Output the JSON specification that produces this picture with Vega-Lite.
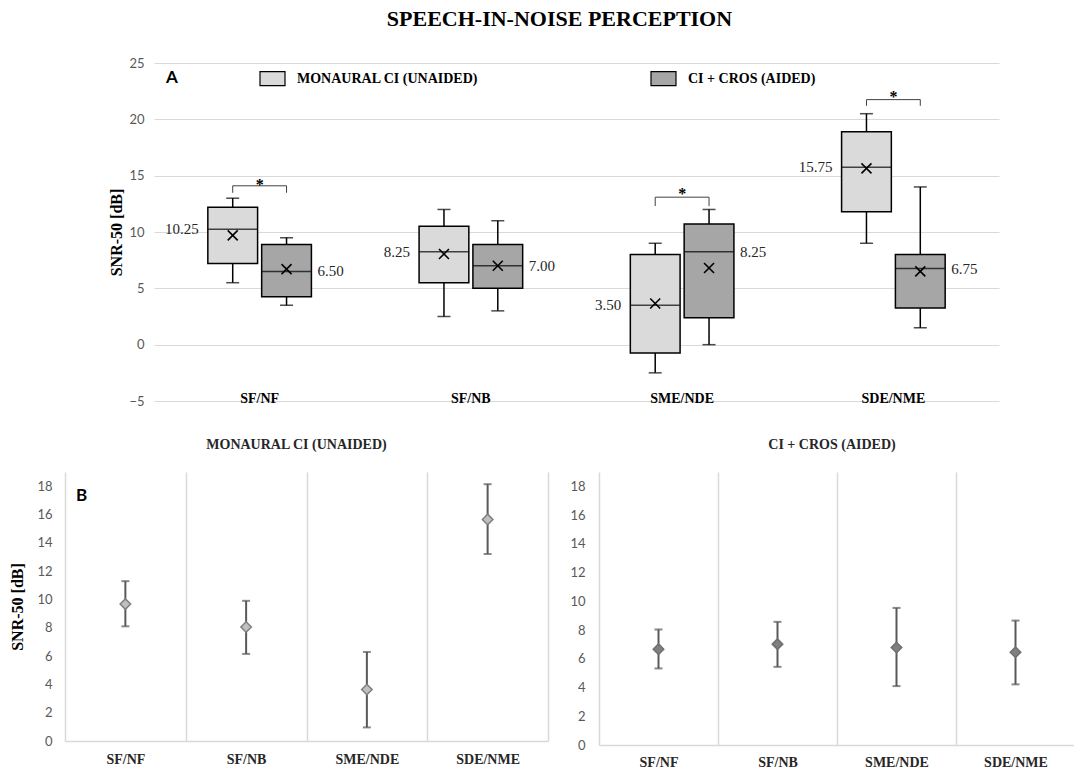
{
  "$schema": "https://vega.github.io/schema/vega-lite/v6.json",
  "padding": {"left": 9, "top": 8, "right": 0, "bottom": 0},
  "title": {"text": "SPEECH-IN-NOISE PERCEPTION", "font": "Liberation Serif", "fontSize": 22, "fontWeight": "bold", "color": "#000000", "anchor": "middle", "dx": 17, "offset": 26},
  "spacing": 30,
  "datasets": {
    "box": [
      {"cond": "SF/NF", "grp": "MONAURAL CI (UNAIDED)", "lo": 5.5, "q1": 7.2, "med": 10.25, "q3": 12.2, "hi": 13.0, "mean": 9.7},
      {"cond": "SF/NF", "grp": "CI + CROS (AIDED)", "lo": 3.5, "q1": 4.25, "med": 6.5, "q3": 8.9, "hi": 9.5, "mean": 6.7},
      {"cond": "SF/NB", "grp": "MONAURAL CI (UNAIDED)", "lo": 2.5, "q1": 5.5, "med": 8.25, "q3": 10.5, "hi": 12.0, "mean": 8.05},
      {"cond": "SF/NB", "grp": "CI + CROS (AIDED)", "lo": 3.0, "q1": 5.0, "med": 7.0, "q3": 8.9, "hi": 11.0, "mean": 7.0},
      {"cond": "SME/NDE", "grp": "MONAURAL CI (UNAIDED)", "lo": -2.5, "q1": -0.75, "med": 3.5, "q3": 8.0, "hi": 9.0, "mean": 3.65},
      {"cond": "SME/NDE", "grp": "CI + CROS (AIDED)", "lo": 0.0, "q1": 2.4, "med": 8.25, "q3": 10.7, "hi": 12.0, "mean": 6.8},
      {"cond": "SDE/NME", "grp": "MONAURAL CI (UNAIDED)", "lo": 9.0, "q1": 11.8, "med": 15.75, "q3": 18.9, "hi": 20.5, "mean": 15.65},
      {"cond": "SDE/NME", "grp": "CI + CROS (AIDED)", "lo": 1.5, "q1": 3.25, "med": 6.75, "q3": 8.0, "hi": 14.0, "mean": 6.5}
    ],
    "brk": [
      {"cond": "SF/NF", "grp": "MONAURAL CI (UNAIDED)", "v": 13.48, "ord": 0},
      {"cond": "SF/NF", "grp": "MONAURAL CI (UNAIDED)", "v": 14.1, "ord": 1},
      {"cond": "SF/NF", "grp": "CI + CROS (AIDED)", "v": 14.1, "ord": 2},
      {"cond": "SF/NF", "grp": "CI + CROS (AIDED)", "v": 13.48, "ord": 3},
      {"cond": "SME/NDE", "grp": "MONAURAL CI (UNAIDED)", "v": 12.3, "ord": 0},
      {"cond": "SME/NDE", "grp": "MONAURAL CI (UNAIDED)", "v": 13.09, "ord": 1},
      {"cond": "SME/NDE", "grp": "CI + CROS (AIDED)", "v": 13.09, "ord": 2},
      {"cond": "SME/NDE", "grp": "CI + CROS (AIDED)", "v": 12.3, "ord": 3},
      {"cond": "SDE/NME", "grp": "MONAURAL CI (UNAIDED)", "v": 21.2, "ord": 0},
      {"cond": "SDE/NME", "grp": "MONAURAL CI (UNAIDED)", "v": 21.75, "ord": 1},
      {"cond": "SDE/NME", "grp": "CI + CROS (AIDED)", "v": 21.75, "ord": 2},
      {"cond": "SDE/NME", "grp": "CI + CROS (AIDED)", "v": 21.2, "ord": 3}
    ],
    "star": [
      {"cond": "SF/NF", "v": 13.7, "t": "*"},
      {"cond": "SME/NDE", "v": 12.93, "t": "*"},
      {"cond": "SDE/NME", "v": 21.5, "t": "*"}
    ],
    "bmon": [
      {"cond": "SF/NF", "mean": 9.67, "lo": 8.1, "hi": 11.29},
      {"cond": "SF/NB", "mean": 8.05, "lo": 6.15, "hi": 9.9},
      {"cond": "SME/NDE", "mean": 3.64, "lo": 0.96, "hi": 6.29},
      {"cond": "SDE/NME", "mean": 15.65, "lo": 13.21, "hi": 18.14}
    ],
    "bcros": [
      {"cond": "SF/NF", "mean": 6.67, "lo": 5.33, "hi": 8.04},
      {"cond": "SF/NB", "mean": 7.02, "lo": 5.44, "hi": 8.57},
      {"cond": "SME/NDE", "mean": 6.79, "lo": 4.1, "hi": 9.54},
      {"cond": "SDE/NME", "mean": 6.46, "lo": 4.22, "hi": 8.66}
    ]
  },
  "vconcat": [
    {
      "spacing": 0,
      "hconcat": [
        {"width": 43, "height": 10, "data": {"values": []}, "mark": "point"},
        {
          "width": 845,
          "height": 338,
          "data": {"name": "box"},
          "layer": [
            {
              "mark": {"type": "rule", "color": "#000000", "strokeWidth": 1.5},
              "encoding": {
                "x": {"field": "cond", "type": "nominal", "sort": null, "scale": {"domain": ["SF/NF", "SF/NB", "SME/NDE", "SDE/NME"], "paddingInner": 0, "paddingOuter": 0}, "axis": {"title": null, "orient": "bottom", "domain": false, "grid": false, "labelAngle": 0, "labelFont": "Liberation Serif", "labelFontWeight": "bold", "labelFontSize": 14, "labelColor": "#000000", "labelPadding": -10}},
                "xOffset": {"field": "grp", "type": "nominal", "scale": {"domain": ["MONAURAL CI (UNAIDED)", "CI + CROS (AIDED)"], "paddingInner": 0.0755, "paddingOuter": 1.028}},
                "y": {"field": "lo", "type": "quantitative", "title": "SNR-50 [dB]", "scale": {"domain": [-5, 25], "nice": false, "zero": false}, "axis": {"values": [-5, 0, 5, 10, 15, 20, 25], "grid": true, "gridColor": "#d9d9d9", "gridWidth": 1.2, "domain": false, "labelPadding": 10, "titlePadding": 4, "labelOverlap": false}},
                "y2": {"field": "hi"}
              }
            },
            {
              "mark": {"type": "tick", "color": "#000000", "size": 13, "thickness": 1.5},
              "encoding": {
                "x": {"field": "cond", "type": "nominal", "sort": null},
                "xOffset": {"field": "grp", "type": "nominal"},
                "y": {"field": "lo", "type": "quantitative", "title": "SNR-50 [dB]"}
              }
            },
            {
              "mark": {"type": "tick", "color": "#000000", "size": 13, "thickness": 1.5},
              "encoding": {
                "x": {"field": "cond", "type": "nominal", "sort": null},
                "xOffset": {"field": "grp", "type": "nominal"},
                "y": {"field": "hi", "type": "quantitative", "title": "SNR-50 [dB]"}
              }
            },
            {
              "mark": {"type": "bar", "stroke": "#000000", "strokeWidth": 1.5},
              "encoding": {
                "x": {"field": "cond", "type": "nominal", "sort": null},
                "xOffset": {"field": "grp", "type": "nominal"},
                "y": {"field": "q1", "type": "quantitative", "title": "SNR-50 [dB]"},
                "y2": {"field": "q3"},
                "fill": {"field": "grp", "type": "nominal", "scale": {"domain": ["MONAURAL CI (UNAIDED)", "CI + CROS (AIDED)"], "range": ["#dadada", "#a6a6a6"]}, "legend": {"orient": "none", "legendX": 194, "legendY": 2, "direction": "horizontal", "title": null, "symbolType": "M-1,-0.56H1V0.56H-1Z", "symbolSize": 625, "symbolStrokeColor": "#000000", "symbolStrokeWidth": 1.2, "labelFont": "Liberation Serif", "labelFontWeight": "bold", "labelFontSize": 14, "labelColor": "#000000", "labelOffset": 11, "columnPadding": 169, "labelLimit": 400, "padding": 0}}
              }
            },
            {
              "mark": {"type": "tick", "color": "#000000", "size": 49, "thickness": 1.5},
              "encoding": {
                "x": {"field": "cond", "type": "nominal", "sort": null},
                "xOffset": {"field": "grp", "type": "nominal"},
                "y": {"field": "med", "type": "quantitative", "title": "SNR-50 [dB]"}
              }
            },
            {
              "mark": {"type": "point", "shape": "M-1,-1L1,1M-1,1L1,-1", "size": 100, "filled": false, "color": "#000000", "strokeWidth": 1.6, "opacity": 1},
              "encoding": {
                "x": {"field": "cond", "type": "nominal", "sort": null},
                "xOffset": {"field": "grp", "type": "nominal"},
                "y": {"field": "mean", "type": "quantitative", "title": "SNR-50 [dB]"}
              }
            },
            {
              "transform": [{"filter": "datum.grp == 'MONAURAL CI (UNAIDED)'"}],
              "mark": {"type": "text", "align": "right", "baseline": "middle", "dx": -34, "font": "Liberation Serif", "fontSize": 15, "color": "#262626"},
              "encoding": {
                "x": {"field": "cond", "type": "nominal", "sort": null},
                "xOffset": {"field": "grp", "type": "nominal"},
                "y": {"field": "med", "type": "quantitative", "title": "SNR-50 [dB]"},
                "text": {"field": "med", "type": "quantitative", "format": ".2f"}
              }
            },
            {
              "transform": [{"filter": "datum.grp == 'CI + CROS (AIDED)'"}],
              "mark": {"type": "text", "align": "left", "baseline": "middle", "dx": 31, "font": "Liberation Serif", "fontSize": 15, "color": "#262626"},
              "encoding": {
                "x": {"field": "cond", "type": "nominal", "sort": null},
                "xOffset": {"field": "grp", "type": "nominal"},
                "y": {"field": "med", "type": "quantitative", "title": "SNR-50 [dB]"},
                "text": {"field": "med", "type": "quantitative", "format": ".2f"}
              }
            },
            {
              "data": {"name": "brk"},
              "mark": {"type": "line", "color": "#404040", "strokeWidth": 1},
              "encoding": {
                "x": {"field": "cond", "type": "nominal", "sort": null},
                "xOffset": {"field": "grp", "type": "nominal"},
                "y": {"field": "v", "type": "quantitative", "title": "SNR-50 [dB]"},
                "order": {"field": "ord", "type": "quantitative"},
                "detail": {"field": "cond", "type": "nominal"}
              }
            },
            {
              "data": {"name": "star"},
              "mark": {"type": "text", "baseline": "alphabetic", "font": "Liberation Serif", "fontWeight": "bold", "fontSize": 16, "color": "#000000"},
              "encoding": {
                "x": {"field": "cond", "type": "nominal", "sort": null},
                "y": {"field": "v", "type": "quantitative", "title": "SNR-50 [dB]"},
                "text": {"field": "t", "type": "nominal"}
              }
            },
            {
              "data": {"values": [{"t": "A"}]},
              "mark": {"type": "text", "align": "left", "baseline": "middle", "dx": 12, "font": "Lato", "fontWeight": "bold", "fontSize": 17, "color": "#000000"},
              "encoding": {
                "x": {"datum": "SF/NF", "type": "nominal", "bandPosition": 0},
                "y": {"datum": 23.64, "type": "quantitative", "title": "SNR-50 [dB]"},
                "text": {"field": "t", "type": "nominal"}
              }
            }
          ]
        }
      ]
    },
    {
      "spacing": 21,
      "hconcat": [
        {
          "width": 483,
          "height": 269,
          "title": {"text": "MONAURAL CI (UNAIDED)", "font": "Liberation Serif", "fontSize": 14, "fontWeight": "bold", "color": "#262626", "offset": 20, "dx": -10},
          "data": {"name": "bmon"},
          "layer": [
            {
              "mark": {"type": "rule", "color": "#595959", "strokeWidth": 2},
              "encoding": {
                "x": {"field": "cond", "type": "nominal", "sort": null, "scale": {"domain": ["SF/NF", "SF/NB", "SME/NDE", "SDE/NME"], "paddingInner": 0, "paddingOuter": 0}, "axis": {"title": null, "domain": true, "domainColor": "#d9d9d9", "domainWidth": 1.5, "grid": true, "gridColor": "#d9d9d9", "gridWidth": 1.5, "tickBand": "extent", "labelAngle": 0, "labelFont": "Liberation Serif", "labelFontWeight": "bold", "labelFontSize": 14, "labelColor": "#262626", "labelPadding": 11}},
                "y": {"field": "lo", "type": "quantitative", "title": "SNR-50 [dB]", "scale": {"domain": [0, 19], "nice": false, "zero": true}, "axis": {"values": [0, 2, 4, 6, 8, 10, 12, 14, 16, 18], "grid": false, "domain": false, "labelPadding": 13, "titlePadding": 11, "labelOverlap": false, "labelSeparation": 0}},
                "y2": {"field": "hi"}
              }
            },
            {
              "mark": {"type": "tick", "color": "#595959", "size": 8, "thickness": 2},
              "encoding": {
                "x": {"field": "cond", "type": "nominal", "sort": null},
                "y": {"field": "lo", "type": "quantitative", "title": "SNR-50 [dB]", "axis": {"values": [0, 2, 4, 6, 8, 10, 12, 14, 16, 18], "labelOverlap": false}}
              }
            },
            {
              "mark": {"type": "tick", "color": "#595959", "size": 8, "thickness": 2},
              "encoding": {
                "x": {"field": "cond", "type": "nominal", "sort": null},
                "y": {"field": "hi", "type": "quantitative", "title": "SNR-50 [dB]", "axis": {"values": [0, 2, 4, 6, 8, 10, 12, 14, 16, 18], "labelOverlap": false}}
              }
            },
            {
              "mark": {"type": "point", "shape": "diamond", "size": 110, "filled": true, "fill": "#c0c0c0", "stroke": "#7f7f7f", "strokeWidth": 1.5, "opacity": 1},
              "encoding": {
                "x": {"field": "cond", "type": "nominal", "sort": null},
                "y": {"field": "mean", "type": "quantitative", "title": "SNR-50 [dB]", "axis": {"values": [0, 2, 4, 6, 8, 10, 12, 14, 16, 18], "labelOverlap": false}}
              }
            },
            {
              "data": {"values": [{"t": "B"}]},
              "mark": {"type": "text", "align": "left", "baseline": "middle", "dx": 11, "font": "Lato", "fontWeight": "bold", "fontSize": 17, "color": "#000000"},
              "encoding": {
                "x": {"datum": "SF/NF", "type": "nominal", "bandPosition": 0},
                "y": {"datum": 17.34, "type": "quantitative", "title": "SNR-50 [dB]", "axis": {"values": [0, 2, 4, 6, 8, 10, 12, 14, 16, 18], "labelOverlap": false}},
                "text": {"field": "t", "type": "nominal"}
              }
            }
          ]
        },
        {
          "width": 476,
          "height": 273,
          "title": {"text": "CI + CROS (AIDED)", "font": "Liberation Serif", "fontSize": 14, "fontWeight": "bold", "color": "#262626", "offset": 20, "dx": -5},
          "data": {"name": "bcros"},
          "layer": [
            {
              "mark": {"type": "rule", "color": "#595959", "strokeWidth": 2},
              "encoding": {
                "x": {"field": "cond", "type": "nominal", "sort": null, "scale": {"domain": ["SF/NF", "SF/NB", "SME/NDE", "SDE/NME"], "paddingInner": 0, "paddingOuter": 0}, "axis": {"title": null, "domain": true, "domainColor": "#d9d9d9", "domainWidth": 1.5, "grid": true, "gridColor": "#d9d9d9", "gridWidth": 1.5, "tickBand": "extent", "labelAngle": 0, "labelFont": "Liberation Serif", "labelFontWeight": "bold", "labelFontSize": 14, "labelColor": "#262626", "labelPadding": 10}},
                "y": {"field": "lo", "type": "quantitative", "title": null, "scale": {"domain": [0, 19], "nice": false, "zero": true}, "axis": {"values": [0, 2, 4, 6, 8, 10, 12, 14, 16, 18], "grid": false, "domain": false, "labelPadding": 14, "labelOverlap": false, "labelSeparation": 0}},
                "y2": {"field": "hi"}
              }
            },
            {
              "mark": {"type": "tick", "color": "#595959", "size": 8, "thickness": 2},
              "encoding": {
                "x": {"field": "cond", "type": "nominal", "sort": null},
                "y": {"field": "lo", "type": "quantitative", "title": null, "axis": {"values": [0, 2, 4, 6, 8, 10, 12, 14, 16, 18], "labelOverlap": false}}
              }
            },
            {
              "mark": {"type": "tick", "color": "#595959", "size": 8, "thickness": 2},
              "encoding": {
                "x": {"field": "cond", "type": "nominal", "sort": null},
                "y": {"field": "hi", "type": "quantitative", "title": null, "axis": {"values": [0, 2, 4, 6, 8, 10, 12, 14, 16, 18], "labelOverlap": false}}
              }
            },
            {
              "mark": {"type": "point", "shape": "diamond", "size": 110, "filled": true, "fill": "#7f7f7f", "stroke": "#6f6f6f", "strokeWidth": 1.5, "opacity": 1},
              "encoding": {
                "x": {"field": "cond", "type": "nominal", "sort": null},
                "y": {"field": "mean", "type": "quantitative", "title": null, "axis": {"values": [0, 2, 4, 6, 8, 10, 12, 14, 16, 18], "labelOverlap": false}}
              }
            }
          ]
        }
      ]
    }
  ],
  "config": {
    "view": {"stroke": null},
    "axis": {"tickSize": 0, "ticks": false, "labelOverlap": false, "labelFont": "Lato", "labelColor": "#595959", "labelFontSize": 13, "titleFont": "Liberation Serif", "titleFontWeight": "bold", "titleFontSize": 16, "titleColor": "#000000", "gridColor": "#d9d9d9", "domainColor": "#d9d9d9"}
  }
}
